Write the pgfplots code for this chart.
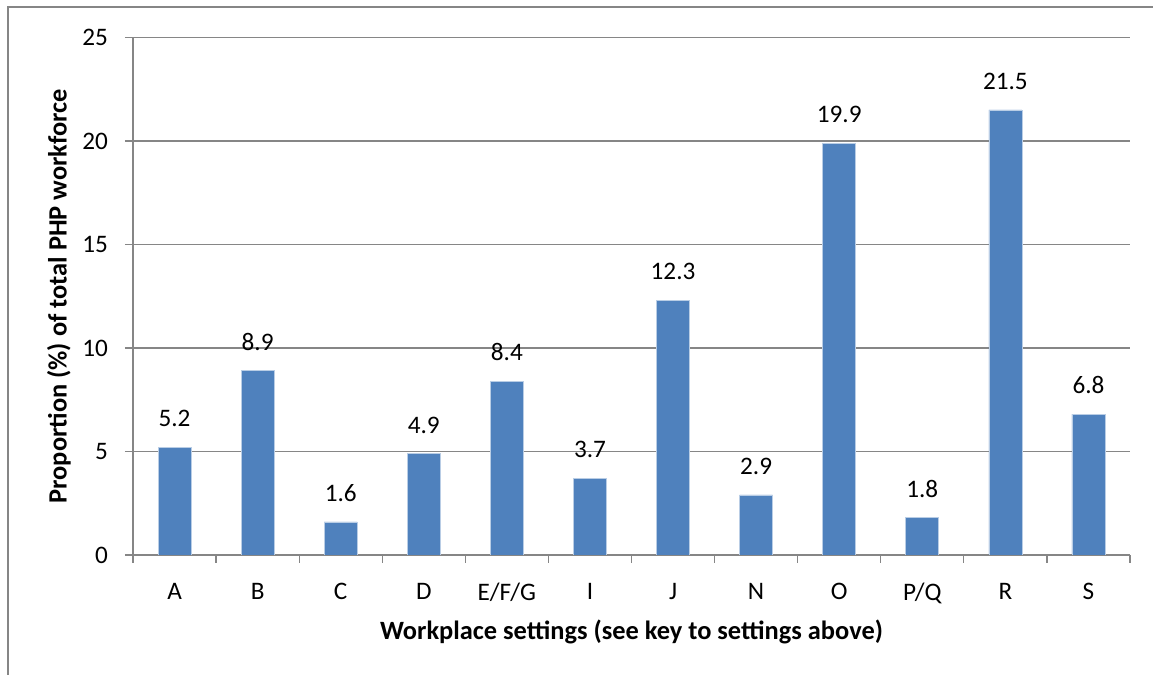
\documentclass[border=0pt]{standalone}
\usepackage{pgfplots}
\pgfplotsset{compat=1.18}
\usepackage{fontspec}
\setmainfont{Carlito}
\definecolor{barblue}{HTML}{4F81BD}
\definecolor{baredge}{HTML}{B9CDE5}
\definecolor{gridgray}{HTML}{868686}
\begin{document}
\begin{tikzpicture}[x=1pt,y=1pt]
\useasboundingbox (0,0) rectangle (576.5,337.5);
\draw[gridgray, line width=0.6pt] (4,0) -- (4,334) -- (576.5,334);
\begin{axis}[
  at={(66.5pt,60pt)}, anchor=south west,
  scale only axis, width=498.5pt, height=258.75pt,
  xmin=-0.5, xmax=11.5, ymin=0, ymax=25,
  ybar, bar width=16.5pt, bar shift=0pt,
  axis x line*=bottom, axis y line*=left,
  axis line style={gridgray, line width=0.6pt},
  xtick={0,...,11},
  xticklabels={A,B,C,D,E/F/G,I,J,N,O,P/Q,R,S},
  major x tick style={draw=none},
  minor xtick={-0.5,0.5,...,11.5},
  minor x tick style={gridgray, line width=0.6pt},
  minor tick length=4pt,
  ytick={0,5,...,25},
  major tick length=4pt,
  y tick style={gridgray, line width=0.6pt},
  tick align=outside,
  ymajorgrids, grid style={gridgray, line width=0.6pt},
  /pgf/number format/assume math mode=true,
  ticklabel style={font=\fontsize{12.6}{14}\selectfont},
  xticklabel style={yshift=-6.5pt},
  yticklabel style={xshift=-5pt},
  xlabel={\textbf{Workplace settings (see key to settings above)}},
  ylabel={\textbf{Proportion (\%) of total PHP workforce}},
  label style={font=\fontsize{13.2}{15}\selectfont},
  xlabel style={yshift=-1pt},
  ylabel style={yshift=-1pt},
  nodes near coords,
  nodes near coords style={font=\fontsize{12.6}{14}\selectfont, anchor=south, inner sep=0pt, yshift=10pt, /pgf/number format/fixed, /pgf/number format/precision=1, /pgf/number format/fixed zerofill},
]
\addplot[fill=barblue, draw=baredge, line width=0.3pt] coordinates {
(0,5.2) (1,8.9) (2,1.6) (3,4.9) (4,8.4) (5,3.7) (6,12.3) (7,2.9) (8,19.9) (9,1.8) (10,21.5) (11,6.8)};
\end{axis}
\end{tikzpicture}
\end{document}
